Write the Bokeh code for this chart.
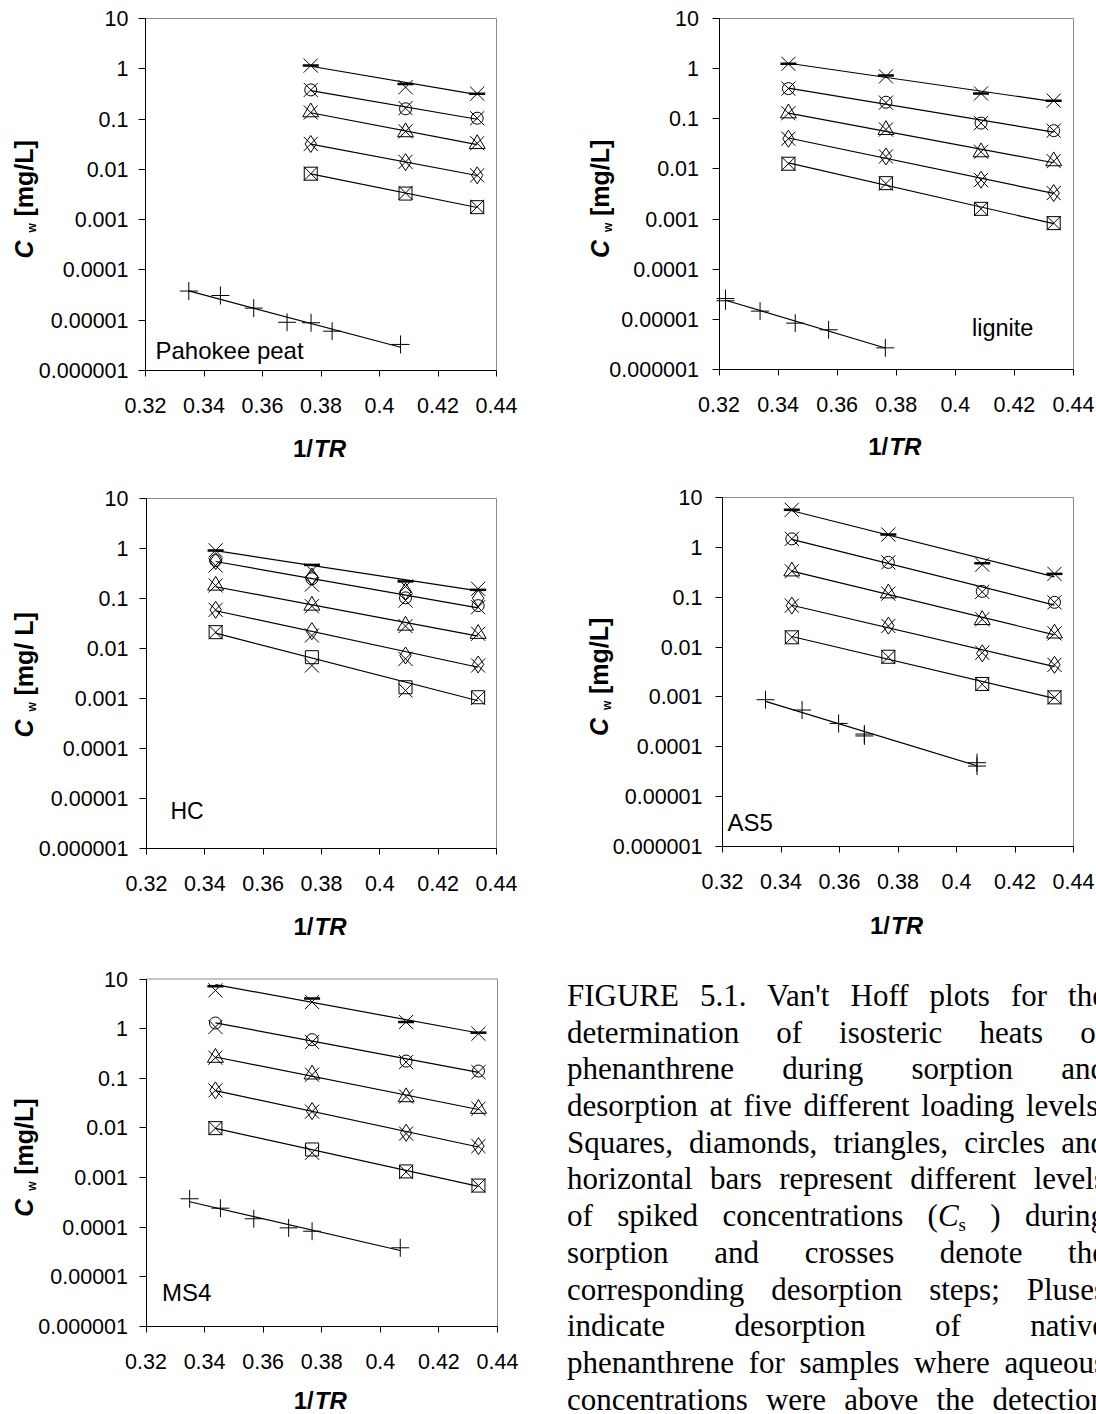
import numpy as np
from math import pi
from bokeh.plotting import figure
from bokeh.models import Range1d, FixedTicker, CustomJSTickFormatter, Label, Div
from bokeh.layouts import row, column
from bokeh.embed import file_html
from bokeh.resources import INLINE

# ---------------------------------------------------------------- data
X_TICKS = [0.32, 0.34, 0.36, 0.38, 0.40, 0.42, 0.44]
Y_TICKS = [1e-6, 1e-5, 1e-4, 1e-3, 1e-2, 1e-1, 1, 10]
LEVEL_MARKERS = ["square", "diamond", "triangle", "circle", "dash"]

# Pahokee peat
PEAT_X = [0.3765, 0.4089, 0.4334]
PEAT_SORPTION = [
    [0.0082, 0.0033, 0.00177],
    [0.032, 0.0139, 0.0076],
    [0.137, 0.055, 0.032],
    [0.38, 0.16, 0.104],
    [1.16, 0.50, 0.32],
]
PEAT_DESORPTION = [
    [0.0082, 0.0034, 0.0018],
    [0.032, 0.0141, 0.0076],
    [0.135, 0.057, 0.033],
    [0.38, 0.165, 0.104],
    [1.16, 0.43, 0.32],
]
PEAT_NATIVE_X = [0.3348, 0.3456, 0.3570, 0.3684, 0.3766, 0.3838, 0.4072]
PEAT_NATIVE_Y = [3.8e-5, 3.1e-5, 1.74e-5, 9.1e-6, 8.9e-6, 6.05e-6, 3.3e-6]

# lignite
LIGNITE_X = [0.3435, 0.3765, 0.4087, 0.4333]
LIGNITE_SORPTION = [
    [0.0127, 0.0052, 0.0016, 0.00083],
    [0.040, 0.0177, 0.0061, 0.0033],
    [0.129, 0.060, 0.0216, 0.0143],
    [0.40, 0.214, 0.082, 0.058],
    [1.25, 0.73, 0.32, 0.23],
]
LIGNITE_DESORPTION = [
    [0.0127, 0.0051, 0.0016, 0.00083],
    [0.040, 0.0177, 0.0060, 0.0033],
    [0.129, 0.061, 0.0220, 0.0143],
    [0.40, 0.210, 0.082, 0.058],
    [1.25, 0.70, 0.32, 0.23],
]
LIGNITE_NATIVE_X = [0.3222, 0.3222, 0.3339, 0.3458, 0.3571, 0.3763]
LIGNITE_NATIVE_Y = [2.6e-5, 2.35e-5, 1.46e-5, 8.4e-6, 6.2e-6, 2.7e-6]

# HC
HC_X = [0.3437, 0.3767, 0.4088, 0.4337]
HC_SORPTION = [
    [0.0212, 0.0067, 0.00168, 0.00106],
    [0.0594, 0.0222, 0.00724, 0.00479],
    [0.182, 0.0724, 0.0288, 0.0197],
    [0.575, 0.248, 0.103, 0.072],
    [0.91, 0.47, 0.22, 0.149],
]
HC_DESORPTION = [
    [0.0212, 0.00457, 0.00145, 0.00103],
    [0.0594, 0.0182, 0.0062, 0.00457],
    [0.182, 0.070, 0.028, 0.0197],
    [0.457, 0.19, 0.091, 0.067],
    [0.92, 0.36, 0.174, 0.156],
]
HC_EXTRA_DIAMOND = [0.56, 0.275, 0.138, 0.101]

# AS5
AS5_X = [0.3437, 0.3767, 0.4088, 0.4335]
AS5_SORPTION = [
    [0.0157, 0.0064, 0.00182, 0.00098],
    [0.0678, 0.0269, 0.0075, 0.0044],
    [0.331, 0.12, 0.035, 0.0188],
    [1.48, 0.50, 0.131, 0.079],
    [5.66, 1.81, 0.48, 0.294],
]
AS5_DESORPTION = [
    [0.0157, 0.0063, 0.00180, 0.00098],
    [0.0678, 0.0265, 0.0077, 0.0044],
    [0.331, 0.118, 0.036, 0.0188],
    [1.48, 0.50, 0.128, 0.079],
    [5.66, 1.81, 0.45, 0.294],
]
AS5_NATIVE_X = [0.3347, 0.3472, 0.3597, 0.3685, 0.3685, 0.4070, 0.4070]
AS5_NATIVE_Y = [0.00088, 0.000546, 0.000294, 0.00018, 0.000165, 4.8e-5, 4.1e-5]

# MS4
MS4_X = [0.3437, 0.3767, 0.4088, 0.4335]
MS4_SORPTION = [
    [0.0099, 0.00368, 0.00133, 0.00069],
    [0.057, 0.0218, 0.008, 0.0043],
    [0.26, 0.12, 0.0418, 0.0244],
    [1.30, 0.60, 0.222, 0.14],
    [7.13, 4.03, 1.36, 0.83],
]
MS4_DESORPTION = [
    [0.0099, 0.00316, 0.0013, 0.00069],
    [0.057, 0.0213, 0.0077, 0.0043],
    [0.26, 0.118, 0.043, 0.0244],
    [1.08, 0.537, 0.212, 0.133],
    [5.9, 3.44, 1.36, 0.79],
]
MS4_NATIVE_X = [0.3349, 0.3454, 0.3568, 0.3687, 0.3767, 0.4068]
MS4_NATIVE_Y = [0.000374, 0.000242, 0.000148, 9.7e-5, 8.3e-5, 3.85e-5]

CAPTION_LINES = [
    "FIGURE 5.1. Van't Hoff plots for the",
    "determination of isosteric heats of",
    "phenanthrene during sorption and",
    "desorption at five different loading levels.",
    "Squares, diamonds, triangles, circles and",
    "horizontal bars represent different levels",
    "of spiked concentrations (<i>C</i><span style=\"font-size:19px;position:relative;top:5px;\">s</span> ) during",
    "sorption and crosses denote the",
    "corresponding desorption steps; Pluses",
    "indicate desorption of native",
    "phenanthrene for samples where aqueous",
    "concentrations were above the detection",
]

# ---------------------------------------------------------------- styles
SANS = "Liberation Sans"
MARKER_STYLE = {
    "square": dict(size=13, line_width=1),
    "diamond": dict(size=17, line_width=1),
    "triangle": dict(size=16, line_width=1),
    "circle": dict(size=12, line_width=1),
    "dash": dict(size=16, line_width=2.5),
}
CROSS_SIZE = 20
PLUS_SIZE = 18

Y_FORMAT = """
const e = Math.round(Math.log10(tick));
if (e >= 0) { return String(Math.round(Math.pow(10, e))); }
return '0.' + '0'.repeat(-e - 1) + '1';
"""
X_FORMAT = "return String(parseFloat(tick.toFixed(2)));"


def fit_line(xs, ys):
    xs = np.asarray(xs, dtype=float)
    ly = np.log10(np.asarray(ys, dtype=float))
    b, a = np.polyfit(xs, ly, 1)
    x0, x1 = xs.min(), xs.max()
    return [x0, x1], [10 ** (a + b * x0), 10 ** (a + b * x1)]


def lab(p, text, x, y, size, style="normal", angle=0.0, align="left", baseline="middle"):
    p.add_layout(Label(x=x, y=y, x_units="screen", y_units="screen", text=text,
                       text_font=SANS, text_font_size=f"{size}px", text_font_style=style,
                       angle=angle, text_align=align, text_baseline=baseline,
                       text_color="black"))


def panel(W, H, left, right, top, bottom, name, name_d, name_size, xs, sorp, desorp,
          nat_x=None, nat_y=None, extra_diamond=None, y_std=10, ytitle_x=23,
          xtitle_gap=78, mgl="[mg/L]"):
    # data area spans [left,right] x [top,bottom] in figure pixels; frame = whole figure
    x0, x1 = X_TICKS[0], X_TICKS[-1]
    sx = (right - left) / (x1 - x0)
    ly0, ly1 = np.log10(Y_TICKS[0]), np.log10(Y_TICKS[-1])
    sy = (bottom - top) / (ly1 - ly0)
    xr = Range1d(x0 - left / sx, x1 + (W - right) / sx)
    yr = Range1d(10 ** (ly0 - (H - bottom) / sy), 10 ** (ly1 + top / sy))

    p = figure(width=W, height=H, x_range=xr, y_range=yr, y_axis_type="log",
               output_backend="svg", toolbar_location=None, min_border=0)
    p.min_border_left = 0
    p.min_border_right = 0
    p.min_border_top = 0
    p.min_border_bottom = 0
    p.xgrid.visible = False
    p.ygrid.visible = False
    p.outline_line_color = None
    p.background_fill_color = "white"
    p.border_fill_color = "white"

    xa = p.xaxis[0]
    ya = p.yaxis[0]
    xa.fixed_location = Y_TICKS[0]
    ya.fixed_location = X_TICKS[0]
    xa.bounds = (X_TICKS[0], X_TICKS[-1])
    ya.bounds = (Y_TICKS[0], Y_TICKS[-1])
    xa.ticker = FixedTicker(ticks=X_TICKS)
    xa.formatter = CustomJSTickFormatter(code=X_FORMAT)
    ya.ticker = FixedTicker(ticks=Y_TICKS)
    ya.formatter = CustomJSTickFormatter(code=Y_FORMAT)
    for ax in (xa, ya):
        ax.axis_line_color = "black"
        ax.axis_line_width = 1
        ax.major_tick_line_color = "black"
        ax.major_tick_in = 0
        ax.minor_tick_in = 0
        ax.minor_tick_out = 0
        ax.major_label_text_font = SANS
        ax.major_label_text_font_size = "21.5px"
        ax.major_label_text_color = "black"
    xa.major_tick_out = 6
    ya.major_tick_out = 7
    xa.major_label_standoff = 21
    ya.major_label_standoff = y_std

    # gray frame on top and right
    p.line([X_TICKS[0], X_TICKS[-1], X_TICKS[-1]], [Y_TICKS[-1], Y_TICKS[-1], Y_TICKS[0]],
           line_color="#8c8c8c", line_width=1)

    # fitted lines and markers
    for i, mk in enumerate(LEVEL_MARKERS):
        lx, ly = fit_line(xs, sorp[i])
        p.line(lx, ly, line_color="black", line_width=1.2)
    if nat_x is not None:
        lx, ly = fit_line(nat_x, nat_y)
        p.line(lx, ly, line_color="black", line_width=1.2)
        p.scatter(nat_x, nat_y, marker="cross", size=PLUS_SIZE, line_color="black", line_width=1)
    for i, mk in enumerate(LEVEL_MARKERS):
        p.scatter(xs, sorp[i], marker=mk, fill_color=None, line_color="black", **MARKER_STYLE[mk])
        p.scatter(xs, desorp[i], marker="x", size=CROSS_SIZE, line_color="black", line_width=1)
    if extra_diamond is not None:
        p.scatter(xs, extra_diamond, marker="diamond", fill_color=None, line_color="black",
                  **MARKER_STYLE["diamond"])

    # panel name (screen coords, y from bottom of figure)
    lab(p, name, left + name_d[0], H - bottom + name_d[1], name_size)
    # y title: C_w [mg/L]
    cy = H - (top + bottom) / 2 - 64
    lab(p, "C", ytitle_x, cy, 25, "bold italic", angle=pi / 2)
    lab(p, "w", ytitle_x + 8, cy + 26, 12, "bold", angle=pi / 2)
    lab(p, mgl, ytitle_x, cy + 42, 25, "bold", angle=pi / 2)
    # x title: 1/TR
    split = (left + right) / 2 - 8
    base = H - bottom - xtitle_gap
    lab(p, "1/", split, base, 24, "bold", align="right")
    lab(p, "TR", split + 1, base, 24, "bold italic", align="left")
    return p


p1 = panel(560, 480, 145, 496, 18, 370, "Pahokee peat", (10, 20), 24, PEAT_X,
           PEAT_SORPTION, PEAT_DESORPTION, PEAT_NATIVE_X, PEAT_NATIVE_Y,
           y_std=10, ytitle_x=23, xtitle_gap=78)
p3 = panel(560, 480, 146, 496, 18, 368, "HC", (24, 38), 23, HC_X,
           HC_SORPTION, HC_DESORPTION, extra_diamond=HC_EXTRA_DIAMOND,
           y_std=11, ytitle_x=23, xtitle_gap=78, mgl="[mg/ L]")
p5 = panel(560, 454, 145.5, 497, 18.5, 366, "MS4", (16, 34), 24, MS4_X,
           MS4_SORPTION, MS4_DESORPTION, MS4_NATIVE_X, MS4_NATIVE_Y,
           y_std=11, ytitle_x=23, xtitle_gap=74)
p2 = panel(536, 480, 158.5, 513, 18, 369, "lignite", (253, 42), 23.5, LIGNITE_X,
           LIGNITE_SORPTION, LIGNITE_DESORPTION, LIGNITE_NATIVE_X, LIGNITE_NATIVE_Y,
           y_std=13, ytitle_x=39, xtitle_gap=77)
p4 = panel(536, 480, 162, 513, 17, 366, "AS5", (5, 24), 24, AS5_X,
           AS5_SORPTION, AS5_DESORPTION, AS5_NATIVE_X, AS5_NATIVE_Y,
           y_std=13, ytitle_x=38, xtitle_gap=79)

line_divs = "".join(
    '<div style="width:539px;height:36.7px;line-height:36.7px;text-align:justify;'
    'text-align-last:justify;">' + ln + "</div>" for ln in CAPTION_LINES)
caption_html = (
    '<div style="width:536px;height:454px;overflow:hidden;'
    "font-family:'Liberation Serif','Times New Roman',serif;font-size:31px;color:black;\">"
    '<div style="padding-top:18px;padding-left:7px;">' + line_divs + "</div></div>")
caption = Div(text=caption_html, width=536, height=454, margin=(0, 0, 0, 0))

layout = row(column(p1, p3, p5, spacing=0), column(p2, p4, caption, spacing=0), spacing=0)

html = file_html(layout, INLINE, title="Van't Hoff plots")
html = html.replace("<head>", "<head><style>html,body{margin:0;padding:0;}</style>", 1)
open("out.html", "w").write(html)
